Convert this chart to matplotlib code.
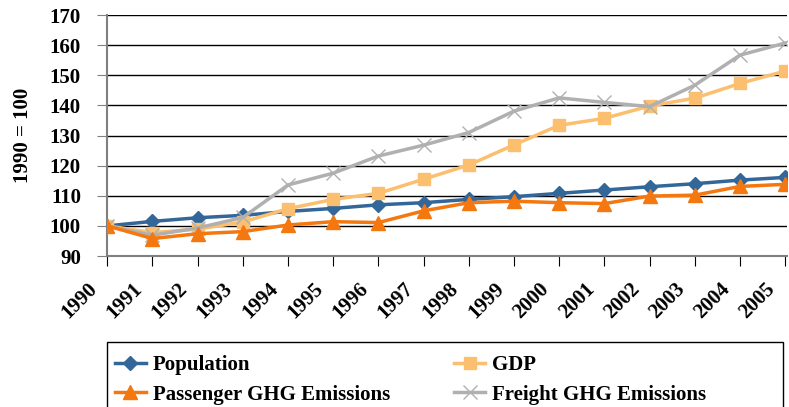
import numpy as np
import matplotlib.pyplot as plt
from matplotlib.patches import Rectangle

plt.rcParams['font.family'] = ['Liberation Serif', 'DejaVu Serif']
plt.rcParams['font.weight'] = 'bold'

years = list(range(1990, 2006))
population = [100, 101.5, 102.7, 103.5, 104.8, 105.8, 107.0, 107.7, 108.8, 109.7,
              110.8, 111.9, 113.0, 114.0, 115.2, 116.1]
gdp = [100, 97.8, 98.9, 101.3, 105.7, 108.8, 110.8, 115.5, 120.2, 126.9,
       133.4, 135.7, 139.8, 142.4, 147.3, 151.4]
passenger = [100, 95.8, 97.4, 98.1, 100.3, 101.4, 101.1, 105.0, 107.7, 108.2,
             107.7, 107.4, 109.9, 110.2, 113.1, 113.8]
freight = [100, 96.9, 99.3, 102.8, 113.6, 117.5, 123.2, 126.8, 131.0, 138.1,
           142.5, 141.0, 139.6, 146.7, 156.7, 160.7]

fig = plt.figure(figsize=(7.89, 4.07), dpi=100)
ax = fig.add_axes([0.136, 0.371, 0.862, 0.592])

ax.set_axisbelow(True)
ax.grid(True, axis='y', color='black', linewidth=1)

l_pop, = ax.plot(years, population, color='#336699', linewidth=2.5,
                 marker='D', markersize=7, label='Population', zorder=3)
l_gdp, = ax.plot(years, gdp, color='#FBBF6F', linewidth=2.5,
                 marker='s', markersize=9, label='GDP', zorder=3)
l_pas, = ax.plot(years, passenger, color='#F4770F', linewidth=2.5,
                 marker='^', markersize=10, label='Passenger GHG Emissions', zorder=4)
l_fre, = ax.plot(years, freight, color='#B0B0B0', linewidth=2.5,
                 marker='x', markersize=10, markeredgewidth=1,
                 label='Freight GHG Emissions', zorder=3)

ax.set_xlim(1990, 2005.05)
ax.set_ylim(90, 170)
ax.set_yticks(range(90, 171, 10))
ax.set_xticks(years)
ax.set_xticklabels([])
ax.tick_params(axis='y', labelsize=15, direction='out', length=7, color='#808080', pad=12)
ax.tick_params(axis='x', direction='out', length=7, color='black')
for t in ax.get_yticklabels():
    t.set_fontweight('bold')

# slanted year labels, shifted left of their ticks like the original
for y in years:
    ax.annotate(str(y), xy=(y, 0), xycoords=('data', 'axes fraction'),
                xytext=(-14.4, -16.5), textcoords='offset points',
                rotation=45, ha='right', va='top', rotation_mode='anchor',
                fontsize=15, fontweight='bold', annotation_clip=False)

ax.spines['top'].set_visible(False)
ax.spines['right'].set_visible(False)
ax.spines['left'].set_color('#808080')
ax.spines['bottom'].set_color('#808080')
ax.spines['left'].set_linewidth(1.5)
ax.spines['bottom'].set_linewidth(1.5)

ax.set_ylabel('1990 = 100', fontsize=15, fontweight='bold', labelpad=12)

# legend box (runs off the bottom of the picture like the original)
fig.patches.append(Rectangle((0.1356, -0.05), 0.857, 0.2097, transform=fig.transFigure,
                             facecolor='white', edgecolor='black', linewidth=1))

leg = fig.legend([l_pop, l_pas, l_gdp, l_fre],
                 ['Population', 'Passenger GHG Emissions', 'GDP', 'Freight GHG Emissions'],
                 loc='upper left', bbox_to_anchor=(0.1356, 0.1474),
                 ncol=2, frameon=False, handlelength=1.45, handletextpad=0.34,
                 borderaxespad=0, borderpad=0.4, labelspacing=0.44, columnspacing=3.1,
                 prop={'weight': 'bold', 'size': 15})

fig.savefig('out.png', dpi=100)
